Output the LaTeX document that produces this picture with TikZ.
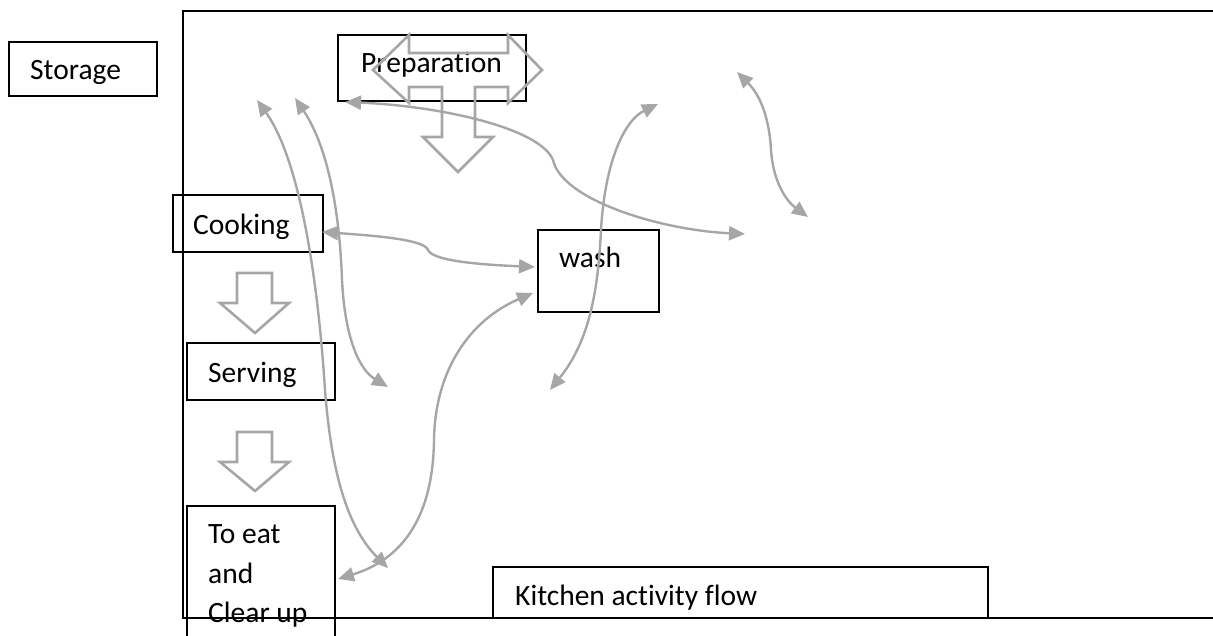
\documentclass[tikz,border=0pt]{standalone}
\usepackage{fontspec}
\setmainfont{Carlito}[Ligatures={NoCommon,NoContextual}]
\usetikzlibrary{arrows.meta}
\definecolor{flowgray}{HTML}{A6A6A6}
\tikzset{
  box/.style={draw=black, line width=1.8pt, inner sep=0pt},
  lbl/.style={inner sep=0pt, anchor=base west, font=\fontsize{29.5}{40}\selectfont},
  flow/.style={draw=flowgray, line width=2.4pt, {Triangle[length=16pt,width=14pt,fill=flowgray]}-{Triangle[length=16pt,width=14pt,fill=flowgray]}},
  blockarrow/.style={draw=flowgray, line width=2.6pt, line join=miter},
  frame/.style={draw=black, line width=2.8pt}
}
\begin{document}
\begin{tikzpicture}[x=1pt,y=-1pt]
\useasboundingbox (0,0) rectangle (1213,636);
% frame
\draw[frame] (1215,11) -- (183,11) -- (183,618) -- (1215,618);
% boxes
\node[box, minimum width=148pt, minimum height=54pt] (storage) at (83,69) {};
\node[lbl] (storagetxt) at (30,80) {Storage};
\node[box, minimum width=188pt, minimum height=66pt] (prep) at (432,68) {};
\node[lbl] (preptxt) at (361,73) {Preparation};
\node[box, minimum width=150pt, minimum height=57pt] (cooking) at (248,223.5) {};
\node[lbl] (cookingtxt) at (193,235) {Cooking};
\node[box, minimum width=148pt, minimum height=57pt] (serving) at (261,371.5) {};
\node[lbl] (servingtxt) at (208,382) {Serving};
\node[box, minimum width=121pt, minimum height=82pt] (wash) at (598.5,271) {};
\node[lbl] (washtxt) at (559,268) {wash};
\draw[box] (187,650) -- (187,506) -- (335,506) -- (335,650);
\coordinate (eat) at (261,560);
\node[lbl] (eattxt1) at (208,543) {To eat};
\node[lbl] (eattxt2) at (208,583) {and};
\node[lbl] (eattxt3) at (208,622) {Clear up};
\draw[box] (493,618) -- (493,567) -- (988,567) -- (988,618);
\coordinate (kitchen) at (740,592);
\node[lbl] (kitchentxt) at (515,605) {Kitchen activity flow};
% block arrows
\draw[blockarrow] (373,70) -- (409,35) -- (409,53) -- (508,53) -- (508,35) -- (542,70) -- (508,103) -- (508,87) -- (475,87) -- (475,137) -- (493,137) -- (458,172) -- (423,137) -- (442,137) -- (442,87) -- (409,87) -- (409,103) -- cycle;
\draw[blockarrow] (237,273) -- (272,273) -- (272,303) -- (289,303) -- (255,333) -- (220,303) -- (237,303) -- cycle;
\draw[blockarrow] (237,432) -- (272,432) -- (272,462) -- (289,462) -- (255,491) -- (220,462) -- (237,462) -- cycle;
% connector ends
\coordinate (a1) at (345,102);
\coordinate (a2) at (745,234);
\coordinate (b1) at (322,232);
\coordinate (b2) at (535,267);
\coordinate (c1) at (257,100);
\coordinate (c2) at (388,568);
\coordinate (d1) at (295,98);
\coordinate (d2) at (388,387);
\coordinate (e1) at (338,579);
\coordinate (e2) at (533,293);
\coordinate (f1) at (550,390);
\coordinate (f2) at (658,104);
\coordinate (g1) at (737,72);
\coordinate (g2) at (808,217);
% connectors
\draw[flow] (a1) .. controls (440,106) and (540,128) .. (553,160) .. controls (562,200) and (660,230) .. (a2);
\draw[flow] (b1) .. controls (380,236) and (425,240) .. (428,250) .. controls (433,262) and (490,265) .. (b2);
\draw[flow] (c1) .. controls (300,160) and (318,280) .. (325,390) .. controls (332,480) and (350,530) .. (c2);
\draw[flow] (d1) .. controls (330,150) and (340,220) .. (342,280) .. controls (345,340) and (360,370) .. (d2);
\draw[flow] (e1) .. controls (400,560) and (433,520) .. (434,440) .. controls (435,370) and (470,320) .. (e2);
\draw[flow] (f1) .. controls (590,340) and (598,290) .. (601,230) .. controls (605,160) and (625,120) .. (f2);
\draw[flow] (g1) .. controls (765,100) and (770,130) .. (771,150) .. controls (773,180) and (785,200) .. (g2);
\end{tikzpicture}
\end{document}
